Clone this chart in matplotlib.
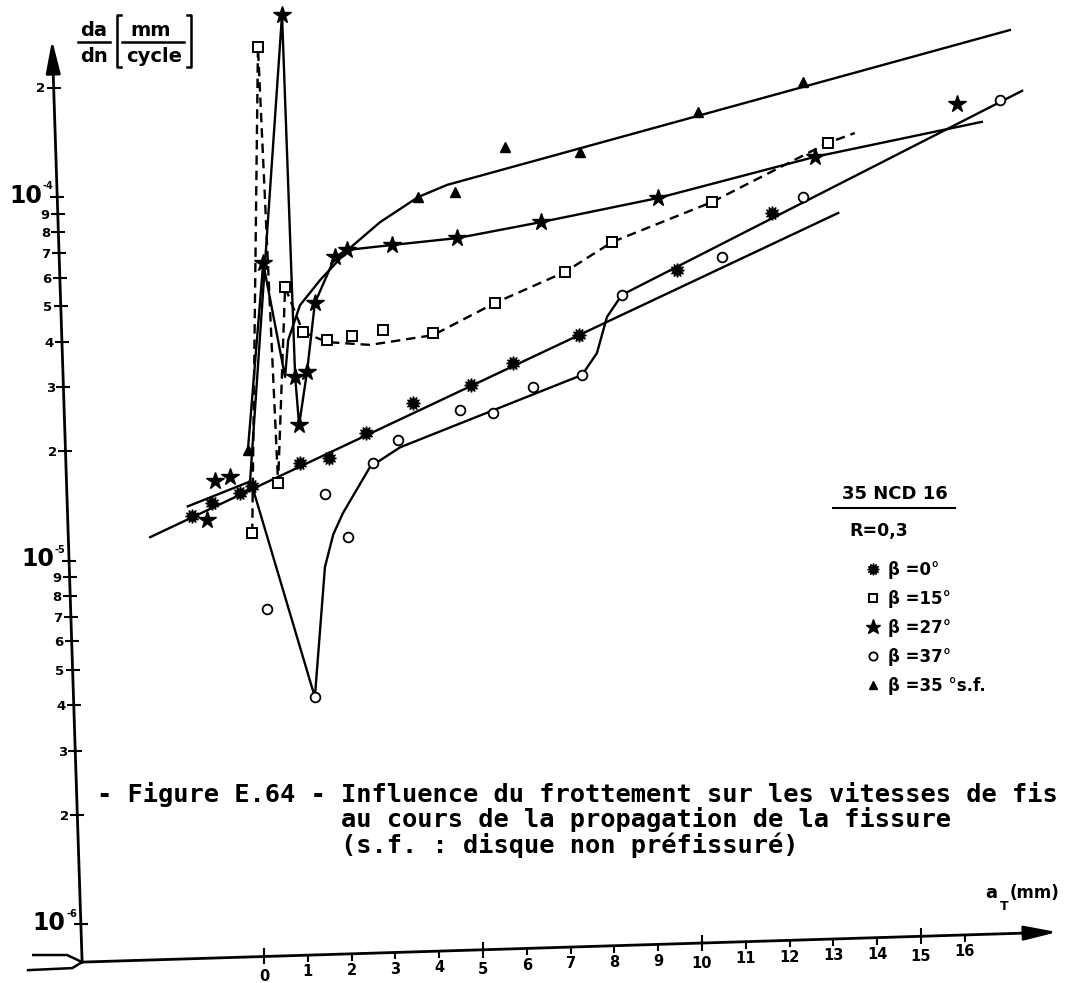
import matplotlib.pyplot as plt
import numpy as np
from matplotlib.lines import Line2D

plt.rcParams['font.family'] = ['DejaVu Sans']
plt.rcParams['font.weight'] = 'bold'

# valeurs : a (mm) et da/dn (mm/cycle)
# beta = 0 deg
a_b0 = [-1.64, -1.19, -0.55, -0.27, 0.82, 1.48, 2.33, 3.40, 4.73, 5.68, 7.19, 9.43, 11.60]
v_b0 = [1.33e-5, 1.44e-5, 1.53e-5, 1.60e-5, 1.85e-5, 1.91e-5, 2.24e-5, 2.71e-5,
        3.04e-5, 3.49e-5, 4.17e-5, 6.30e-5, 9.04e-5]
a_b0_fit = [-2.60, 13.11]
v_b0_fit = [1.16e-5, 9.04e-5]

# beta = 15 deg
a_b15 = [-0.27, -0.14, 0.32, 0.48, 0.89, 1.44, 2.01, 2.72, 3.86, 5.27, 6.87, 7.95, 10.23, 12.88]
v_b15 = [1.19e-5, 2.59e-4, 1.63e-5, 5.65e-5, 4.25e-5, 4.04e-5, 4.14e-5, 4.31e-5,
         4.22e-5, 5.11e-5, 6.22e-5, 7.52e-5, 9.69e-5, 1.41e-4]
a_b15_line = [-0.27, -0.14, 0.32, 0.48, 0.89, 1.44, 2.42, 3.86, 5.27, 6.87, 7.95, 10.23, 12.88, 13.49]
v_b15_line = [1.19e-5, 2.59e-4, 1.63e-5, 5.65e-5, 4.25e-5, 3.99e-5, 3.92e-5, 4.17e-5,
              5.11e-5, 6.22e-5, 7.52e-5, 9.69e-5, 1.41e-4, 1.50e-4]

# beta = 27 deg
a_b27 = [-1.30, -1.12, -0.78, -0.02, 0.41, 0.71, 0.80, 0.98, 1.16, 1.62, 1.89, 2.92,
         4.41, 6.32, 9.00, 12.58, 15.82]
v_b27 = [1.29e-5, 1.66e-5, 1.70e-5, 6.58e-5, 3.17e-4, 3.20e-5, 2.36e-5, 3.30e-5,
         5.11e-5, 6.84e-5, 7.15e-5, 7.38e-5, 7.71e-5, 8.53e-5, 9.94e-5, 1.29e-4, 1.80e-4]
a_b27_line = [-1.74, -0.32, 0.41, 0.71, 0.80, 0.98, 1.16, 1.62, 1.89, 2.92, 4.41, 6.32, 9.00, 12.58, 16.39]
v_b27_line = [1.41e-5, 1.65e-5, 3.17e-4, 3.20e-5, 2.36e-5, 3.30e-5, 5.11e-5, 6.84e-5,
              7.15e-5, 7.38e-5, 7.71e-5, 8.53e-5, 9.94e-5, 1.29e-4, 1.61e-4]

# beta = 37 deg
a_b37 = [0.07, 1.16, 1.39, 1.92, 2.49, 3.06, 4.47, 5.23, 6.14, 7.26, 8.17, 10.46, 12.31, 16.80]
v_b37 = [7.35e-6, 4.21e-6, 1.52e-5, 1.16e-5, 1.85e-5, 2.15e-5, 2.59e-5, 2.54e-5,
         3.00e-5, 3.24e-5, 5.38e-5, 6.84e-5, 1.0e-4, 1.85e-4]
a_b37_line = [-0.27, 1.16, 1.39, 1.58, 1.80, 2.42, 3.11, 7.26, 7.60, 7.83, 8.17, 17.31]
v_b37_line = [1.60e-5, 4.21e-6, 9.6e-6, 1.18e-5, 1.35e-5, 1.81e-5, 2.05e-5, 3.24e-5,
              3.72e-5, 4.68e-5, 5.38e-5, 1.96e-4]

# beta = 35 deg, s.f.
a_b35 = [-0.37, 3.52, 4.36, 5.50, 7.21, 9.91, 12.31]
v_b35 = [2.01e-5, 1.0e-4, 1.03e-4, 1.37e-4, 1.33e-4, 1.71e-4, 2.07e-4]
a_b35_line = [-0.37, -0.02, 0.48, 0.55, 0.82, 1.28, 1.96, 2.65, 3.52, 4.18, 17.03]
v_b35_line = [2.01e-5, 6.58e-5, 3.20e-5, 4.04e-5, 5.04e-5, 5.91e-5, 7.24e-5, 8.53e-5,
              1.0e-4, 1.08e-4, 2.88e-4]

# graduations
xtick_vals = np.arange(0, 17)
ytick_vals = [k * 1e-6 for k in range(1, 10)] + [k * 1e-5 for k in range(1, 10)] + [1e-4, 2e-4]
ytick_labels = ['10', '2', '3', '4', '5', '6', '7', '8', '9',
                '10', '2', '3', '4', '5', '6', '7', '8', '9', '10', '2']
ytick_exp = {1e-6: '-6', 1e-5: '-5', 1e-4: '-4'}

legend_labels = ['\u03b2 =0\u00b0', '\u03b2 =15\u00b0', '\u03b2 =27\u00b0',
                 '\u03b2 =37\u00b0', '\u03b2 =35 \u00b0s.f.']

W, H = 1083, 983
fig = plt.figure(figsize=(W / 100, H / 100), dpi=100)
ax = fig.add_axes([0, 0, 1, 1])
ax.set_yscale('log')
ax.set_xlim(-6.03, 18.70)
ax.set_ylim(10 ** -6.162, 10 ** -3.458)
ax.axis('off')

# axes dessines a la main, un peu penches comme sur le document
yax_x = [-4.155, -4.840]
yax_logv = [-6.1045, -3.568]
xax_x = [-4.155, 18.11]
xax_logv = [-6.1045, -6.022]

arrow = dict(arrowstyle='-|>,head_length=1.0,head_width=0.22', lw=2, color='k',
             mutation_scale=20, shrinkA=0, shrinkB=0)
ax.annotate('', xy=(yax_x[1], 10 ** yax_logv[1]), xytext=(yax_x[0], 10 ** yax_logv[0]),
            arrowprops=arrow)
ax.annotate('', xy=(xax_x[1], 10 ** xax_logv[1]), xytext=(xax_x[0], 10 ** xax_logv[0]),
            arrowprops=arrow)
ax.plot([-5.27, -4.50, -4.155], [10 ** -6.085, 10 ** -6.085, 10 ** -6.1045], 'k', lw=1.8)
ax.plot([-5.39, -4.38, -4.155], [10 ** -6.1266, 10 ** -6.121, 10 ** -6.1045], 'k', lw=1.8)

# graduations y
ty = np.array(ytick_vals)
tx = np.interp(np.log10(ty), yax_logv, yax_x)
ax.plot(tx, ty, ls='none', marker='_', ms=10, mew=1.5, color='k')
for x, v, lab in zip(tx, ty, ytick_labels):
    if lab == '10':
        ax.annotate('10', (x, v), xytext=(-11, 1), textcoords='offset points',
                    ha='right', va='center', fontsize=17)
        ax.annotate(ytick_exp[min(ytick_exp, key=lambda d: abs(np.log10(d / v)))], (x, v),
                    xytext=(-10.5, 4), textcoords='offset points', ha='left', va='bottom', fontsize=7)
    else:
        ax.annotate(lab, (x, v), xytext=(-6, -1), textcoords='offset points',
                    ha='right', va='center', fontsize=9.5)

# graduations x
xt_v = 10 ** np.interp(xtick_vals, xax_x, xax_logv)
major = xtick_vals % 5 == 0
ax.plot(xtick_vals[major], xt_v[major], ls='none', marker='|', ms=12, mew=1.5, color='k')
ax.plot(xtick_vals[~major], xt_v[~major], ls='none', marker=3, ms=5, mew=1.5, color='k')
for x, v, m in zip(xtick_vals, xt_v, major):
    ax.annotate(str(x), (x, v), xytext=(0, -14.5 if m else -12), textcoords='offset points',
                ha='center', va='center', fontsize=10.5)

# courbes
lw = 1.7
ax.plot(a_b0_fit, v_b0_fit, 'k-', lw=lw)
ax.plot(a_b15_line, v_b15_line, 'k--', lw=lw, dashes=(4, 2.5))
ax.plot(a_b27_line, v_b27_line, 'k-', lw=lw)
ax.plot(a_b37_line, v_b37_line, 'k-', lw=lw)
ax.plot(a_b35_line, v_b35_line, 'k-', lw=lw)

h0, = ax.plot(a_b0, v_b0, ls='none', marker=(12, 1, 0), ms=10, color='k')
h15, = ax.plot(a_b15, v_b15, ls='none', marker='s', ms=6.5, mfc='white', mec='k', mew=1.4)
h27, = ax.plot(a_b27, v_b27, ls='none', marker='*', ms=13, color='k')
h37, = ax.plot(a_b37, v_b37, ls='none', marker='o', ms=7, mfc='white', mec='k', mew=1.3)
h35, = ax.plot(a_b35, v_b35, ls='none', marker='^', ms=7, color='k')

leg = ax.legend([h0, h15, h27, h37, h35], legend_labels, loc='upper left',
                bbox_to_anchor=(858 / W, 1 - 553 / H), bbox_transform=fig.transFigure,
                frameon=False, fontsize=12, handlelength=0.8, handletextpad=0.5,
                borderpad=0, labelspacing=0.65, markerscale=0.85)

# texte de la legende
fig.text(842 / W, 1 - 494 / H, '35 NCD 16', fontsize=13, ha='left', va='center')
fig.add_artist(Line2D([833 / W, 955 / W], [1 - 508 / H, 1 - 508 / H], color='k', lw=1.5))
fig.text(849 / W, 1 - 531 / H, 'R=0,3', fontsize=12.5, ha='left', va='center')

# titre de l'axe y
fig.text(94 / W, 1 - 30 / H, 'da', fontsize=14, ha='center', va='center')
fig.text(94 / W, 1 - 57 / H, 'dn', fontsize=14, ha='center', va='center')
fig.add_artist(Line2D([78 / W, 110 / W], [1 - 42 / H, 1 - 42 / H], color='k', lw=1.8))
fig.text(151 / W, 1 - 30 / H, 'mm', fontsize=14, ha='center', va='center')
fig.text(154 / W, 1 - 56 / H, 'cycle', fontsize=14, ha='center', va='center')
fig.add_artist(Line2D([122 / W, 184 / W], [1 - 42 / H, 1 - 42 / H], color='k', lw=1.8))
fig.add_artist(Line2D([121 / W, 117 / W, 117 / W, 121 / W],
                      [1 - 15 / H, 1 - 15 / H, 1 - 67 / H, 1 - 67 / H], color='k', lw=1.8))
fig.add_artist(Line2D([187 / W, 191 / W, 191 / W, 187 / W],
                      [1 - 15 / H, 1 - 15 / H, 1 - 67 / H, 1 - 67 / H], color='k', lw=1.8))

# titre de l'axe x
fig.text(985 / W, 1 - 893 / H, 'a', fontsize=13, ha='left', va='center')
fig.text(1000 / W, 1 - 906 / H, 'T', fontsize=9, ha='left', va='center')
fig.text(1010 / W, 1 - 893 / H, '(mm)', fontsize=12, ha='left', va='center')

# legende de la figure
fig.text(97 / W, 1 - 782 / H,
         '- Figure E.64 - Influence du frottement sur les vitesses de fis\n'
         '                au cours de la propagation de la fissure\n'
         '                (s.f. : disque non pr\u00e9fissur\u00e9)',
         family='DejaVu Sans Mono', fontsize=18.3, ha='left', va='top', linespacing=1.0)

fig.savefig('out.png', dpi=100)
